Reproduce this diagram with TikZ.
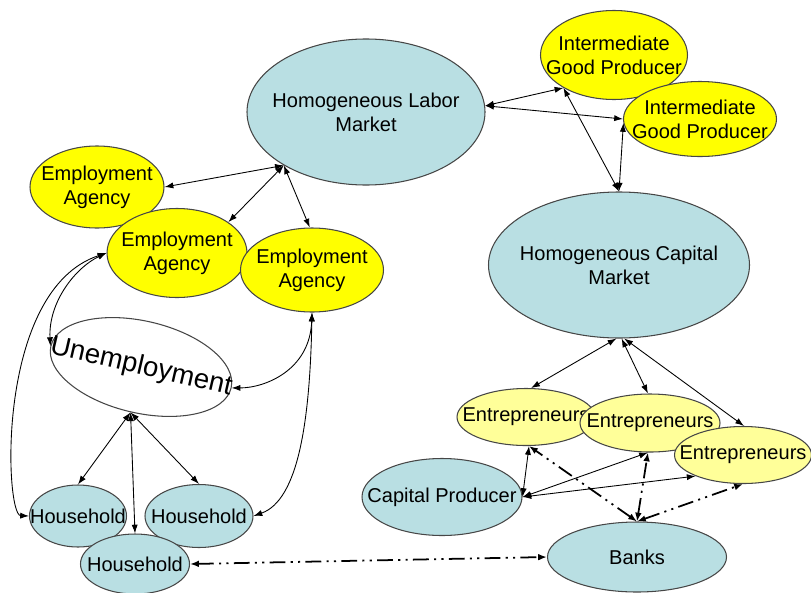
\documentclass[tikz,border=0pt]{standalone}
\usepackage{fontspec}
\setmainfont{Liberation Sans}
\usetikzlibrary{shapes.geometric,arrows.meta}
\definecolor{sea}{RGB}{185,223,227}
\definecolor{gold}{RGB}{255,255,0}
\definecolor{cream}{RGB}{255,255,153}
\definecolor{rim}{RGB}{70,70,70}
\tikzset{
  blob/.style={ellipse, draw=rim, line width=0.6pt, inner sep=0pt},
  tag/.style={align=center, inner sep=0pt, font=\fontsize{11.4}{13.8}\selectfont},
  link/.style={<->, >={Latex[length=5pt,width=3.5pt]}, line width=0.5pt},
  loan/.style={<->, >={Latex[length=5pt,width=3.8pt]}, line width=1pt,
    dash pattern=on 9pt off 3pt on 1.2pt off 3pt on 1.2pt off 3pt}
}
\begin{document}
\begin{tikzpicture}[x=0.02cm, y=-0.02cm]
  \useasboundingbox (0,0) rectangle (811,592);
  % ellipses, later ones on top
  \foreach \n/\x/\y/\w/\h/\c/\t in {
      lab/366/112/238/146/sea/{Homogeneous Labor\\Market},
      int1/614/55/147/89/gold/{Intermediate\\Good Producer},
      int2/700/119/153/75/gold/{Intermediate\\Good Producer},
      cap/619/265/261/146/sea/{Homogeneous Capital\\Market},
      ea1/97/187/134/82/gold/{Employment\\Agency},
      ea2/177/253/140/89/gold/{Employment\\Agency},
      ea3/312/270/143/84/gold/{Employment\\Agency},
      hh1/78/516/97/62/sea/Household,
      hh2/199/516/108/63/sea/Household,
      hh3/135/564/109/60/sea/Household,
      ent1/526/417/138/57/cream/Entrepreneurs,
      ent2/650/423/140/58/cream/Entrepreneurs,
      ent3/743/455/137/57/cream/Entrepreneurs,
      cp/442/497/160/77/sea/Capital Producer,
      banks/637/557/179/70/sea/Banks}{
    \node[blob, fill=\c, minimum width=0.02cm*\w, minimum height=0.02cm*\h](\n) at (\x,\y) {};
    \node[tag](\n-t) at (\n) {\t};
  }
  \node[blob, fill=white, rotate=-13, minimum width=0.02cm*185, minimum height=0.02cm*92](un) at (141,367) {};
  \node[rotate=-13, inner sep=0pt, font=\fontsize{15.7}{18}\selectfont](un-t) at (un) {Unemployment};
  % straight links
  \foreach \a/\b in {lab.213/ea1.east, lab.213/ea2.31, lab.213/ea3.93,
      lab.3/int1.213, lab.3/int2.west, int1.213/cap.north, int2.183/cap.north,
      cap.268/ent1.80, cap.272/ent2.94, cap.274/ent3.88,
      cp.east/ent1.276, cp.east/ent2.266, cp.east/ent3.204,
      un.south/hh1.north, un.south/hh2.north, un.south/hh3.north}
    \draw[link] (\a) -- (\b);
  % curved links
  \draw[link] (ea2.west) .. controls +(-30,14) and +(-2,-45) .. (un.west);
  \draw[link] (ea2.west) .. controls (-5,290) and (5,515) .. (hh1.west);
  \draw[link] (ea3.south) .. controls +(-2,58) and +(33,0) .. (un.east);
  \draw[link] (ea3.south) .. controls +(-2,108) and +(45,-16) .. (hh2.east);
  % money
  \foreach \b in {ent1.276, ent2.266, ent3.south}
    \draw[loan] (banks.north) -- (\b);
  \draw[loan] (hh3.east) -- (banks.west);
\end{tikzpicture}
\end{document}
